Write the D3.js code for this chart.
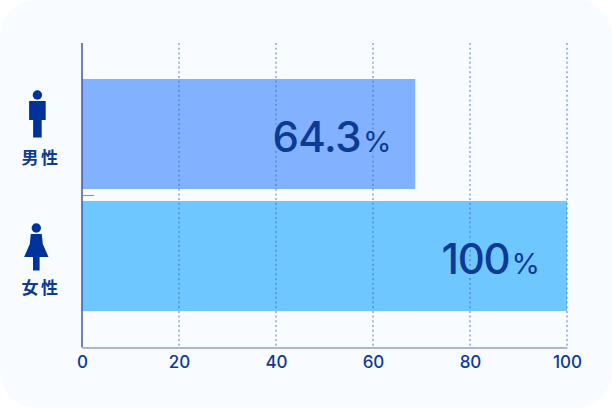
<!DOCTYPE html>
<html lang="ja"><head><meta charset="utf-8">
<script src="https://cdn.jsdelivr.net/npm/d3@7"></script>
<style>html,body{margin:0;padding:0;background:#fff}svg{display:block}</style></head>
<body><svg id="c" width="612" height="408"></svg>
<script>
const categories = ["男性", "女性"];
const barValues = [68.7, 100];
const valueLabels = ["64.3", "100"];
const barColors = ["#82b1ff", "#6ec8ff"];
const ticks = [0, 20, 40, 60, 80, 100];

const navy = "#0d3a94", labelFont = "Inter, 'Noto Sans', sans-serif", cjk = "'Noto Sans CJK JP', sans-serif";
const svg = d3.select("#c");
svg.append("rect").attr("width", 612).attr("height", 408).attr("rx", 36).attr("fill", "#f8fbff");

const x = d3.scaleLinear().domain([0, 100]).range([82, 567]);
const y = d3.scaleBand().domain(categories).range([43, 347]).paddingInner(0.098).paddingOuter(0.295);

// bars
svg.selectAll("rect.bar").data(categories).join("rect").attr("class", "bar")
  .attr("x", x(0)).attr("y", d => y(d))
  .attr("width", (d, i) => x(barValues[i]) - x(0)).attr("height", y.bandwidth())
  .attr("fill", (d, i) => barColors[i]);

// grid
svg.selectAll("line.grid").data(ticks.slice(1)).join("line").attr("class", "grid")
  .attr("x1", d => x(d)).attr("x2", d => x(d)).attr("y1", 43).attr("y2", 347)
  .attr("stroke", "#3f62b4").attr("stroke-opacity", 0.65).attr("stroke-width", 1.3).attr("stroke-dasharray", "2 2.7");

// x axis
const ax = d3.axisBottom(x).tickValues(ticks).tickSize(0).tickPadding(8);
const gx = svg.append("g").attr("transform", "translate(0,347.5)").call(ax);
gx.select(".domain").attr("stroke", "#8f9fcb").attr("stroke-width", 1.5);
gx.selectAll("text").attr("font-family", labelFont).attr("font-size", 17).attr("font-weight", 500).attr("fill", navy);

// y axis
svg.append("line").attr("x1", 82).attr("x2", 82).attr("y1", 43).attr("y2", 347.5)
  .attr("stroke", "#3f5a9e").attr("stroke-width", 1.5);
svg.append("line").attr("x1", 82).attr("x2", 94).attr("y1", 195.5).attr("y2", 195.5)
  .attr("stroke", "#7f93c0").attr("stroke-width", 1);

// value labels
const vals = svg.selectAll("text.val").data(categories).join("text").attr("class", "val")
  .attr("y", d => y(d) + y.bandwidth() / 2 + 18)
  .attr("font-family", labelFont).attr("fill", navy).attr("text-anchor", "end")
  .attr("x", (d, i) => i === 0 ? 391.5 : 540)
  .attr("stroke", (d, i) => barColors[i]).attr("stroke-opacity", 0.8).attr("stroke-width", 5)
  .attr("paint-order", "stroke").attr("stroke-linejoin", "round");
vals.append("tspan").attr("font-size", 42).attr("font-weight", 500)
  .attr("letter-spacing", (d, i) => i === 0 ? -0.5 : -1.2).text((d, i) => valueLabels[i]);
vals.append("tspan").attr("font-size", 29).attr("font-weight", 400).attr("dx", 2).text("%");

// category labels
svg.selectAll("text.cat").data(categories).join("text").attr("class", "cat")
  .attr("x", 41).attr("y", (d, i) => y(d) + y.bandwidth() / 2 + (i === 0 ? 30 : 38))
  .attr("text-anchor", "middle").attr("font-family", cjk).attr("font-size", 17).attr("font-weight", 700)
  .attr("letter-spacing", 2.5).attr("fill", navy).text(d => d);

// pictograms
const cy = categories.map(d => y(d) + y.bandwidth() / 2);
const man = svg.append("g").attr("transform", `translate(37.4,${cy[0]})`).attr("fill", "#003399");
man.append("circle").attr("cy", -39).attr("r", 4.7);
man.append("rect").attr("x", -8.3).attr("y", -33).attr("width", 16.6).attr("height", 19);
man.append("rect").attr("x", -4.3).attr("y", -14).attr("width", 8.6).attr("height", 17.5);
const woman = svg.append("g").attr("transform", `translate(36.3,${cy[1]})`).attr("fill", "#003399");
woman.append("circle").attr("cy", -28).attr("r", 4.7);
woman.append("path").attr("d", "M-5.5,-22H5.5L6.5,-12L12.2,1H-12.2L-6.5,-12Z");
woman.append("rect").attr("x", -3.3).attr("y", 1).attr("width", 6.6).attr("height", 13.5);
</script></body></html>
